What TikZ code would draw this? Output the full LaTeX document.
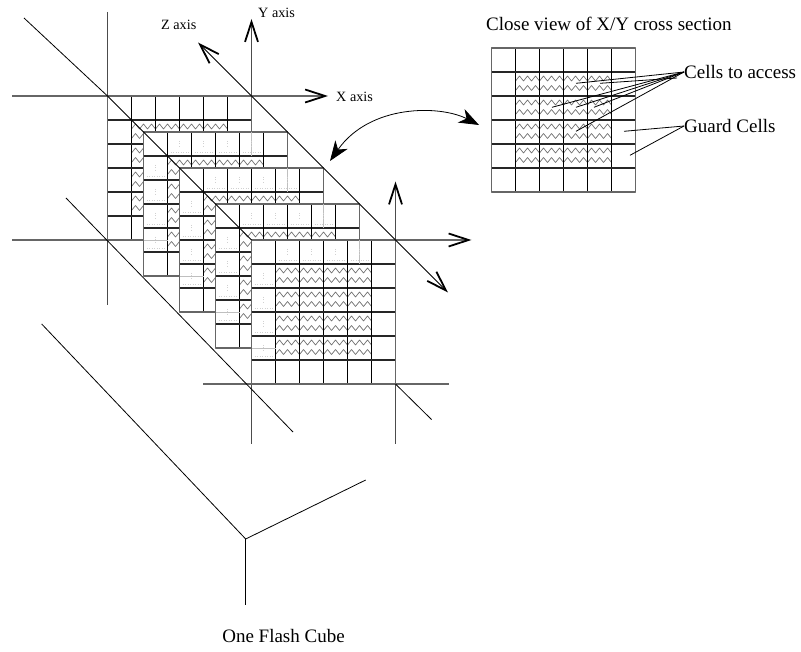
\documentclass[tikz,border=0pt]{standalone}
\usepackage{fontspec}
\setmainfont{Liberation Serif}
\usepackage{xcolor}
\usetikzlibrary{arrows.meta}
\definecolor{edgegray}{gray}{0.4}
\definecolor{rowdark}{gray}{0.15}
\tikzset{
  every picture/.style={line join=round, line cap=butt, x=1pt, y=-1pt},
  axisline/.style={line width=1.3pt, color=edgegray},
  upline/.style={line width=0.9pt, color=black!70},
  slant/.style={line width=0.8pt, color=black},
  barbtip/.tip={Straight Barb[length=20pt,width=13pt,line width=1.8pt,color=black]},
  flattip/.tip={Stealth[length=20pt,width=15pt,inset=6pt]},
  colline/.style={line width=1.2pt, color=black},
  rowline/.style={line width=1.6pt, color=rowdark},
  rimline/.style={line width=1.3pt, color=edgegray},
  zigline/.style={line width=0.7pt, color=black!55},
  fadeline/.style={line width=0.8pt, color=black!25},
  speck/.style={line width=0.5pt, color=black!18, dotted},
  leader/.style={line width=0.8pt, color=black},
  smalllabel/.style={inner sep=0pt, anchor=west, font=\fontsize{14.2}{16}\selectfont},
  biglabel/.style={inner sep=0pt, anchor=west, font=\fontsize{19}{22}\selectfont},
}
\begin{document}
\begin{tikzpicture}
\useasboundingbox (0,0) rectangle (801,652);
\draw[axisline] (12,240)--(143,240);
\draw[axisline,-barbtip] (251.5,240)--(471.5,240);
\draw[axisline,-barbtip] (12,96)--(328,96);
\draw[axisline] (203,384)--(449,384);
\draw[upline] (107.5,12)--(107.5,305);
\draw[upline,-barbtip] (251.5,96)--(251.5,19);
\draw[upline] (251.5,384)--(251.5,443.5);
\draw[upline,-barbtip] (395.5,443.5)--(395.5,181.5);
\foreach \ox/\oy in {107.5/96,143.5/132,179.5/168,215.5/204,251.5/240,491.5/48}{
  \fill[white] (\ox,\oy) rectangle (\ox+144,\oy+144);
  \foreach \j in {1,...,4}{
    \foreach \dy in {9,18.5}{
      \draw[zigline] (\ox+24,\oy+\j*24+\dy) \foreach \k in {0,...,11}{ -- ++(4,-5) -- ++(4,5)};
    }
  }
  \foreach \i in {1,...,5}{
    \draw[colline] (\ox+\i*24,\oy)--(\ox+\i*24,\oy+144);
    \draw[rowline] (\ox,\oy+\i*24)--(\ox+144,\oy+\i*24);
  }
  \draw[rimline] (\ox,\oy) rectangle (\ox+144,\oy+144);
}
\foreach \ox/\oy in {143.5/132,179.5/168,215.5/204,251.5/240}{
  \draw[fadeline] (\ox+108,\oy)--(\ox+108,\oy+24);
  \draw[fadeline] (\ox,\oy+108)--(\ox+24,\oy+108);
  \foreach \i in {1,...,4}{
    \draw[speck] (\ox+\i*24+3,\oy+20)--++(18,0);
    \draw[speck] (\ox+\i*24+12,\oy+9)--++(0,6);
    \draw[speck] (\ox+3,\oy+\i*24+20)--++(18,0);
    \draw[speck] (\ox+12,\oy+\i*24+9)--++(0,6);
  }
}
\draw[slant] (24,18)--(107.5,96)--(251.5,240);
\draw[slant,barbtip-barbtip] (198,42.5)--(448,292.5);
\draw[slant] (66,198)--(293,432);
\draw[slant] (395.5,384)--(431.5,419.5);
\draw[slant] (41.7,324)--(245.7,539)--(365.7,480);
\draw[slant] (245.7,539)--(245.7,605);
\draw[line width=0.8pt,flattip-flattip] (330,161) .. controls (370,104) and (440,105) .. (479,125);
\node[smalllabel] (yaxis) at (258,13) {Y axis};
\node[smalllabel] (zaxis) at (161,25) {Z axis};
\node[smalllabel] (xaxis) at (336,97) {X axis};
\node[biglabel] (closeview) at (486,24) {Close view of X/Y cross section};
\node[biglabel] (access) at (684,72) {Cells to access};
\node[biglabel] (guard) at (684,126) {Guard Cells};
\node[biglabel,anchor=center] (cube) at (283.5,636) {One Flash Cube};
\coordinate (accessa) at (576,83.3);
\coordinate (accessb) at (600,83.3);
\coordinate (accessc) at (552,107.3);
\coordinate (accessd) at (576,107.3);
\coordinate (accesse) at (594,107.3);
\coordinate (accessf) at (576,131.3);
\coordinate (accesstail) at (677,78);
\coordinate (guarda) at (624,131.3);
\coordinate (guardb) at (630,155.3);
\draw[leader] (access.west)--(accessa);
\draw[leader] (access.west)--(accessc);
\draw[leader] (access.west)--(accessd);
\draw[leader] (access.west)--(accesse);
\draw[leader] (access.west)--(accessf);
\draw[leader] (accesstail)--(accessb);
\draw[leader] (guard.west)--(guarda);
\draw[leader] (guard.west)--(guardb);
\end{tikzpicture}
\end{document}
